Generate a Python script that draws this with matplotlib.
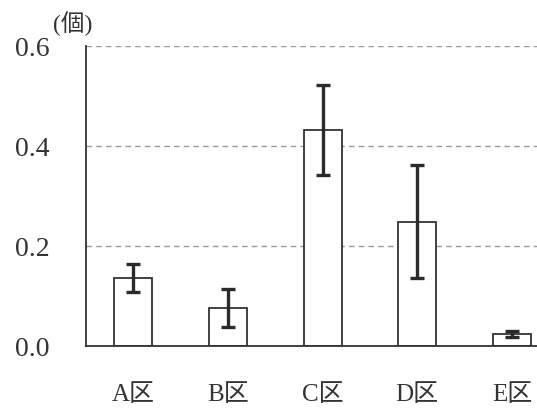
import matplotlib
matplotlib.use("Agg")
import matplotlib.pyplot as plt
import numpy as np

plt.rcParams['font.family'] = ['Liberation Serif', 'Noto Sans CJK JP', 'DejaVu Sans']

# 区ごとの平均個数と誤差
areas = ["A区", "B区", "C区", "D区", "E区"]
means = [0.136, 0.076, 0.433, 0.249, 0.024]
errs = [0.028, 0.038, 0.090, 0.113, 0.006]
yticks = [0.0, 0.2, 0.4, 0.6]

fig = plt.figure(figsize=(5.37, 4.10), dpi=100)
ax = fig.add_axes([86 / 537, 63 / 410, 451 / 537, 300 / 410])

idx = np.arange(len(areas))
ax.bar(idx, means, width=0.4, color="white", edgecolor="#333333",
       linewidth=1.3, zorder=3)
ax.errorbar(idx, means, yerr=errs, fmt="none", ecolor="#2a2a2a",
            elinewidth=2.4, capsize=4.7, capthick=2.4, zorder=4)

for y in yticks[1:]:
    ax.axhline(y, color="#999999", linestyle=(0, (4, 3)), linewidth=1.0, zorder=1)

ax.set_xlim(-0.5, 4.265)
ax.set_ylim(0, 0.6)
ax.set_yticks(yticks)
ax.set_yticklabels([f"{v:.1f}" for v in yticks])
ax.set_xticks(idx)
ax.set_xticklabels(areas)
ax.tick_params(axis="y", length=0, pad=26, labelsize=20, colors="#333333")
ax.tick_params(axis="x", length=0, pad=27, labelsize=18, colors="#333333")

for s in ["top", "right"]:
    ax.spines[s].set_visible(False)
for s in ["left", "bottom"]:
    ax.spines[s].set_color("#333333")
    ax.spines[s].set_linewidth(1.3)
ax.spines["left"].set_zorder(5)
ax.spines["bottom"].set_zorder(5)

fig.text(73 / 537, 1 - 24 / 410, "(個)", ha="center", va="center",
         fontsize=17, color="#333333")

fig.savefig("out.png", dpi=100)
